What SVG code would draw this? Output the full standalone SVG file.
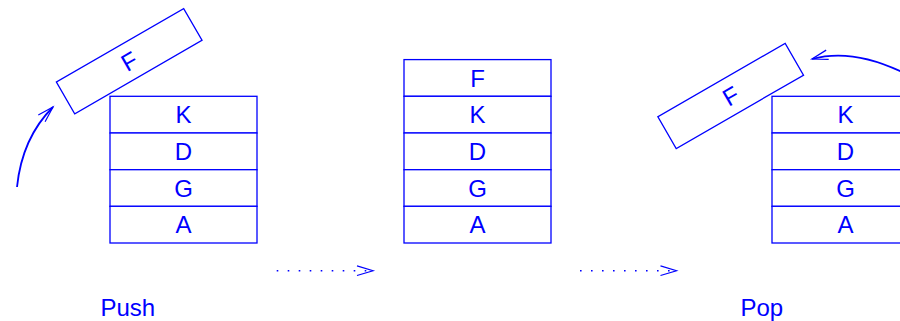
<svg xmlns="http://www.w3.org/2000/svg" width="900" height="321" viewBox="0 0 900 321">
<defs>
<style>
.box{fill:#fff;stroke:#0000ff;stroke-width:1.3}
.lbl{font-family:"Liberation Sans",Arial,sans-serif;font-size:24px;fill:#0000ff;text-anchor:middle}
.cap{font-family:"Liberation Sans",Arial,sans-serif;font-size:24px;fill:#0000ff}
.curve{fill:none;stroke:#0000ff;stroke-width:1.8}
.dots{fill:none;stroke:#0000ff;stroke-width:1.6;stroke-dasharray:1.6 9.4}
</style>
<marker id="ah" markerUnits="userSpaceOnUse" markerWidth="20" markerHeight="14" refX="0" refY="0" viewBox="-17 -7 18 14" orient="auto" overflow="visible">
<path d="M-16,-4.8 L0,0 L-16,4.8" fill="none" stroke="#0000ff" stroke-width="1.2"/>
</marker>
</defs>
<rect width="900" height="321" fill="#fff"/>

<g id="stack-push">
<rect class="box" x="110" y="96.3" width="147" height="36.7"/><text class="lbl" x="183.5" y="123.3">K</text>
<rect class="box" x="110" y="133" width="147" height="36.7"/><text class="lbl" x="183.5" y="160">D</text>
<rect class="box" x="110" y="169.7" width="147" height="36.7"/><text class="lbl" x="183.5" y="196.7">G</text>
<rect class="box" x="110" y="206.3" width="147" height="36.7"/><text class="lbl" x="183.5" y="233.3">A</text>
</g>
<g id="f-push" transform="translate(129.2,61.2) rotate(-30)">
<rect class="box" x="-73.5" y="-18.35" width="147" height="36.7"/><text class="lbl" x="0" y="8.6">F</text>
</g>

<g id="stack-full">
<rect class="box" x="404" y="59.6" width="147" height="36.7"/><text class="lbl" x="477.5" y="86.6">F</text>
<rect class="box" x="404" y="96.3" width="147" height="36.7"/><text class="lbl" x="477.5" y="123.3">K</text>
<rect class="box" x="404" y="133" width="147" height="36.7"/><text class="lbl" x="477.5" y="160">D</text>
<rect class="box" x="404" y="169.7" width="147" height="36.7"/><text class="lbl" x="477.5" y="196.7">G</text>
<rect class="box" x="404" y="206.3" width="147" height="36.7"/><text class="lbl" x="477.5" y="233.3">A</text>
</g>

<g id="stack-pop">
<rect class="box" x="772" y="96.3" width="147" height="36.7"/><text class="lbl" x="845.5" y="123.3">K</text>
<rect class="box" x="772" y="133" width="147" height="36.7"/><text class="lbl" x="845.5" y="160">D</text>
<rect class="box" x="772" y="169.7" width="147" height="36.7"/><text class="lbl" x="845.5" y="196.7">G</text>
<rect class="box" x="772" y="206.3" width="147" height="36.7"/><text class="lbl" x="845.5" y="233.3">A</text>
</g>
<g id="f-pop" transform="translate(730.7,96) rotate(-30)">
<rect class="box" x="-73.5" y="-18.35" width="147" height="36.7"/><text class="lbl" x="0" y="8.6">F</text>
</g>

<g id="connectors">
<path class="curve" d="M17,187 Q22,138 53,107" marker-end="url(#ah)"/>
<path class="curve" d="M902,72 Q852,48 812,59" marker-end="url(#ah)"/>
<path class="dots" d="M276.7,270.7 L373,270.7" marker-end="url(#ah)"/>
<path class="dots" d="M580,270.7 L676.5,270.7" marker-end="url(#ah)"/>
</g>

<g id="captions">
<text class="cap" x="100.5" y="316">Push</text>
<text class="cap" x="740.5" y="316">Pop</text>
</g>
</svg>
